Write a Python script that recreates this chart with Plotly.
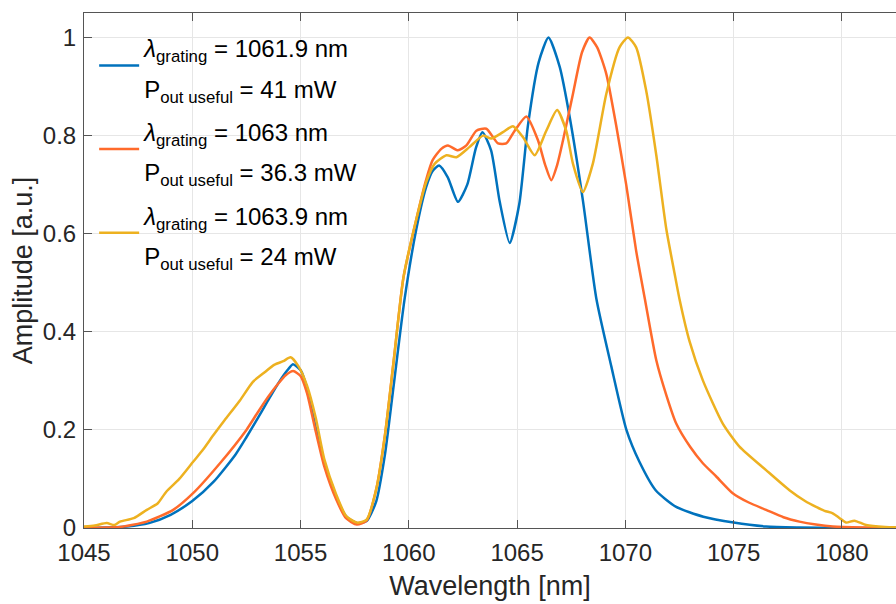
import plotly.graph_objects as go

# ---- data ----
blue_x = [1045, 1046, 1047, 1048, 1049, 1050, 1051, 1052, 1052.5, 1053, 1053.5, 1054, 1054.4, 1054.65,
          1055, 1055.3, 1055.66, 1056.1, 1056.65, 1057.1, 1057.6, 1058.05, 1058.5, 1058.9, 1059.3, 1059.8,
          1060.35, 1060.8, 1061.1, 1061.4, 1061.8, 1062.27, 1062.7, 1063.1, 1063.4, 1063.8, 1064.2, 1064.66,
          1065.1, 1065.5, 1066.0, 1066.45, 1066.97, 1067.43, 1068.04, 1068.66, 1069.35, 1070.05,
          1070.65, 1071.4, 1072.35, 1073.6, 1075.0, 1076.5, 1078, 1080, 1083]
blue_y = [0, 0.001, 0.003, 0.01, 0.027, 0.055, 0.095, 0.15, 0.185, 0.222, 0.26, 0.297, 0.322, 0.334,
          0.322, 0.285, 0.213, 0.132, 0.063, 0.024, 0.01, 0.014, 0.055, 0.15, 0.29, 0.465,
          0.61, 0.695, 0.728, 0.739, 0.715, 0.665, 0.7, 0.775, 0.807, 0.77, 0.665, 0.581,
          0.66, 0.82, 0.95, 1.0, 0.94, 0.838, 0.668, 0.468, 0.33, 0.2,
          0.135, 0.077, 0.043, 0.023, 0.011, 0.003, 0.001, 0, 0]

red_x = [1045, 1046, 1046.66, 1047.9, 1049.12, 1050.04, 1051.28, 1052.5, 1053, 1053.5, 1054, 1054.3, 1054.66,
         1055, 1055.3, 1055.66, 1056.1, 1056.65, 1057.1, 1057.6, 1058.05, 1058.5, 1058.9, 1059.3, 1059.75,
         1060.35, 1060.8, 1061.1, 1061.5, 1061.81, 1062.27, 1062.66, 1063.12, 1063.58, 1064.12, 1064.5,
         1064.89, 1065.43, 1065.97, 1066.3, 1066.58, 1066.85, 1067.12, 1067.58, 1068.0, 1068.35, 1068.7,
         1069.12, 1069.58, 1070.04, 1070.5, 1070.89, 1071.43, 1071.9, 1072.35, 1073.0, 1073.58, 1074.2,
         1074.96, 1075.7, 1076.5, 1077.3, 1078.04, 1078.8, 1079.58, 1081, 1083]
red_y = [0, 0.001, 0.002, 0.013, 0.037, 0.071, 0.132, 0.2, 0.234, 0.267, 0.296, 0.311, 0.32,
         0.31, 0.275, 0.205, 0.125, 0.058, 0.02, 0.007, 0.015, 0.08, 0.19, 0.34, 0.51,
         0.63, 0.71, 0.75, 0.773, 0.78, 0.77, 0.78, 0.81, 0.814, 0.784, 0.784,
         0.81, 0.839, 0.79, 0.74, 0.709, 0.74, 0.79, 0.885, 0.97, 1.0, 0.98,
         0.926, 0.82, 0.70, 0.565, 0.47, 0.342, 0.27, 0.213, 0.165, 0.132, 0.105,
         0.071, 0.052, 0.037, 0.022, 0.013, 0.007, 0.003, 0.001, 0]

yellow_x = [1045, 1045.5, 1046.05, 1046.4, 1046.66, 1047.3, 1047.9, 1048.4, 1048.8, 1049.4, 1050.04, 1050.5,
            1050.97, 1051.5, 1052.2, 1052.8, 1053.3, 1053.8, 1054.2, 1054.54, 1054.9, 1055.3, 1055.7, 1056.1,
            1056.65, 1057.1, 1057.6, 1058.05, 1058.5, 1058.9, 1059.3, 1059.75, 1060.35, 1060.8, 1061.2,
            1061.74, 1062.2, 1062.81, 1063.43, 1063.81, 1064.35, 1064.81, 1065.27, 1065.81, 1066.35, 1066.85,
            1067.27, 1067.58, 1068.04, 1068.5, 1069.12, 1069.73, 1070.12, 1070.5, 1070.97, 1071.43, 1071.89,
            1072.27, 1072.5, 1072.97, 1073.58, 1074.5, 1075.27, 1076.5, 1077.58, 1078.3, 1078.81, 1079.2,
            1079.58, 1079.9, 1080.2, 1080.58, 1081.12, 1082, 1083]
yellow_y = [0.003, 0.005, 0.01, 0.006, 0.013, 0.02, 0.037, 0.05, 0.074, 0.1, 0.135, 0.16,
            0.189, 0.22, 0.26, 0.298, 0.316, 0.333, 0.34, 0.348, 0.33, 0.29, 0.225, 0.14,
            0.068, 0.025, 0.011, 0.017, 0.08, 0.19, 0.34, 0.51, 0.63, 0.705, 0.743,
            0.76, 0.756, 0.777, 0.8, 0.794, 0.807, 0.819, 0.797, 0.76, 0.81, 0.852,
            0.81, 0.743, 0.685, 0.743, 0.885, 0.98, 1.0, 0.98, 0.89, 0.76, 0.61,
            0.52, 0.467, 0.38, 0.301, 0.213, 0.166, 0.118, 0.077, 0.055, 0.043, 0.035,
            0.03, 0.02, 0.011, 0.015, 0.006, 0.002, 0.001]

legend_lines = [
    ("1061.9 nm", "41 mW"),
    ("1063 nm", "36.3 mW"),
    ("1063.9 nm", "24 mW"),
]
colors = ["#0072BD", "#FF6A2B", "#EDB120"]

x_ticks = [1045, 1050, 1055, 1060, 1065, 1070, 1075, 1080]
y_ticks = [0, 0.2, 0.4, 0.6, 0.8, 1]
y_tick_text = ["0", "0.2", "0.4", "0.6", "0.8", "1"]


def legend_name(lam, pout):
    s = "<span style='font-size:24px'>"
    return (s + "<i>λ</i><sub>grating</sub> = " + lam + "</span><br>"
            + s + "P<sub>out useful</sub> = " + pout + "</span>")


fig = go.Figure()
for i, (xs, ys) in enumerate([(blue_x, blue_y), (red_x, red_y), (yellow_x, yellow_y)]):
    fig.add_trace(go.Scatter(
        x=xs, y=ys, mode="lines", name=legend_name(*legend_lines[i]),
        line=dict(color=colors[i], width=2.5, shape="spline", smoothing=0.6),
    ))

FONT = "Liberation Sans, Arial, sans-serif"
axis_common = dict(
    showline=True, linecolor="#555555", linewidth=1,
    ticks="inside", ticklen=8, tickcolor="#555555",
    showgrid=True, gridcolor="#E6E6E6", gridwidth=1,
    zeroline=False,
    tickfont=dict(family=FONT, size=24, color="#262626"),
)

fig.update_layout(
    width=896, height=604,
    margin=dict(l=84, r=0, t=13, b=76),
    paper_bgcolor="white", plot_bgcolor="white",
    font=dict(family=FONT, color="#262626"),
    showlegend=True,
    legend=dict(
        x=0.0125, y=0.989, xanchor="left", yanchor="top",
        bgcolor="rgba(255,255,255,0)", borderwidth=0,
        font=dict(family=FONT, size=31, color="#000000"),
        itemwidth=40,
    ),
    xaxis=dict(
        range=[1045, 1082.5], tickvals=x_ticks, mirror="ticks",
        ticklabelstandoff=3,
        title=dict(text="Wavelength [nm]", font=dict(size=27, color="#262626"), standoff=11),
        **axis_common,
    ),
    yaxis=dict(
        range=[0, 1.05], tickvals=y_ticks, ticktext=y_tick_text, mirror=False,
        ticklabelstandoff=2,
        title=dict(text="Amplitude [a.u.]", font=dict(size=27, color="#262626"), standoff=2),
        **axis_common,
    ),
)

fig.write_html("out.html")
